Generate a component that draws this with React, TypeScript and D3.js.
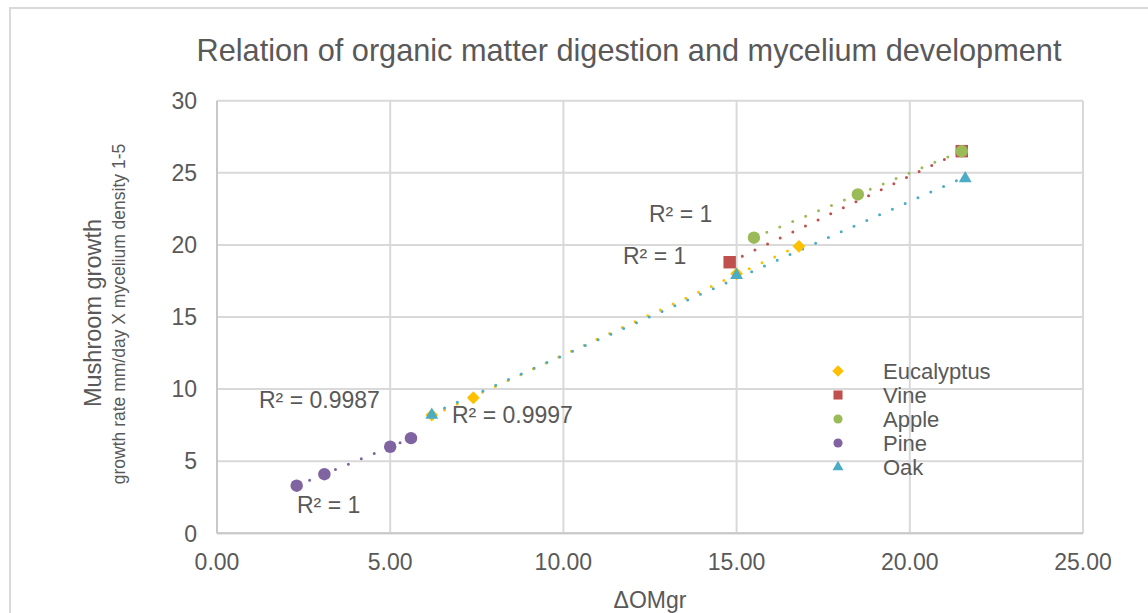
import React from "react";
import * as d3 from "d3";

const seriesNames = ["Eucalyptus", "Vine", "Apple", "Pine", "Oak"];
const seriesColors = ["#FFC000", "#C0504D", "#9BBB59", "#8064A2", "#4BACC6"];
const seriesShapes = ["diamond", "square", "circle", "circle", "triangle"];

const eucalyptusX = [6.2, 7.4, 15.0, 16.8];
const eucalyptusY = [8.2, 9.4, 18.0, 19.9];
const vineX = [14.8, 21.5];
const vineY = [18.8, 26.5];
const appleX = [15.5, 18.5, 21.5];
const appleY = [20.5, 23.5, 26.5];
const pineX = [2.3, 3.1, 5.0, 5.6];
const pineY = [3.3, 4.1, 6.0, 6.6];
const oakX = [6.2, 15.0, 21.6];
const oakY = [8.2, 17.9, 24.6];

const xTicks = [0, 5, 10, 15, 20, 25];
const yTicks = [0, 5, 10, 15, 20, 25, 30];

const r2Labels = ["R² = 0.9997", "R² = 1", "R² = 1", "R² = 1", "R² = 0.9987"];
const r2Pos: [number, number][] = [
  [452, 423],
  [623, 264],
  [649, 222],
  [297, 513],
  [259, 408],
];

const titleText = "Relation of organic matter digestion and mycelium development";
const xTitle = "ΔOMgr";
const yTitle = "Mushroom growth";
const ySubTitle = "growth rate mm/day X mycelium density 1-5";

const FONT = "'Liberation Sans', Arial, sans-serif";
const TEXT = "#595959";

function fit(xs: number[], ys: number[]) {
  const mx = d3.mean(xs)!;
  const my = d3.mean(ys)!;
  let sxy = 0,
    sxx = 0;
  xs.forEach((x, i) => {
    sxy += (x - mx) * (ys[i] - my);
    sxx += (x - mx) * (x - mx);
  });
  const b = sxy / sxx;
  const a = my - b * mx;
  return (x: number) => a + b * x;
}

function Marker({ shape, cx, cy, color, s }: { shape: string; cx: number; cy: number; color: string; s: number }) {
  const sym =
    shape === "diamond"
      ? d3.symbolDiamond2
      : shape === "square"
      ? d3.symbolSquare
      : shape === "triangle"
      ? d3.symbolTriangle
      : d3.symbolCircle;
  const path = d3.symbol().type(sym).size(s)()!;
  return <path d={path} transform={`translate(${cx},${cy})`} fill={color} />;
}

export default function App() {
  const W = 1148;
  const H = 613;
  const x = d3.scaleLinear().domain([0, 25]).range([217, 1083]);
  const y = d3.scaleLinear().domain([0, 30]).range([533.3, 100.7]);
  const data = [
    [eucalyptusX, eucalyptusY],
    [vineX, vineY],
    [appleX, appleY],
    [pineX, pineY],
    [oakX, oakY],
  ];
  const sizes: Record<string, number> = { diamond: 105, square: 155, circle: 122, triangle: 72 };
  const legendSizes: Record<string, number> = { diamond: 85, square: 82, circle: 66, triangle: 52 };

  return (
    <svg
      width={W}
      height={H}
      style={{ position: "absolute", left: 0, top: 0, background: "#fff" }}
      fontFamily={FONT}
    >
      <rect x={10} y={8} width={1300} height={800} fill="#fff" stroke="#d9d9d9" strokeWidth={2} />
      <text x={629} y={61} textAnchor="middle" fontSize={30.7} fill={TEXT}>
        {titleText}
      </text>
      {yTicks.map((t) => (
        <line key={"gy" + t} x1={217} x2={1083} y1={y(t)} y2={y(t)} stroke="#d9d9d9" strokeWidth={2} />
      ))}
      {xTicks.map((t) => (
        <line key={"gx" + t} y1={y(0)} y2={y(30)} x1={x(t)} x2={x(t)} stroke="#d9d9d9" strokeWidth={2} />
      ))}
      <line x1={x(0)} x2={x(0)} y1={y(0)} y2={y(30)} stroke="#c8c8c8" strokeWidth={2} />
      <line x1={x(0)} x2={x(25)} y1={y(0)} y2={y(0)} stroke="#c8c8c8" strokeWidth={2} />
      {yTicks.map((t) => (
        <text key={"ty" + t} x={197} y={y(t)} dy="0.36em" textAnchor="end" fontSize={23} fill={TEXT}>
          {t}
        </text>
      ))}
      {xTicks.map((t) => (
        <text key={"tx" + t} x={x(t)} y={570} textAnchor="middle" fontSize={23} fill={TEXT}>
          {d3.format(".2f")(t)}
        </text>
      ))}
      <text x={650} y={608} textAnchor="middle" fontSize={23} fill={TEXT}>
        {xTitle}
      </text>
      <text transform="translate(101,313) rotate(-90)" textAnchor="middle" fontSize={23.5} fill={TEXT}>
        {yTitle}
      </text>
      <text transform="translate(125,314) rotate(-90)" textAnchor="middle" fontSize={17.5} fill={TEXT}>
        {ySubTitle}
      </text>
      {data.map(([xs, ys], i) => {
        const f = fit(xs, ys);
        const x0 = d3.min(xs)!;
        const x1 = d3.max(xs)!;
        return (
          <line
            key={"tr" + i}
            x1={x(x0)}
            y1={y(f(x0))}
            x2={x(x1)}
            y2={y(f(x1))}
            stroke={seriesColors[i]}
            strokeWidth={3}
            strokeDasharray="0 14"
            strokeLinecap="round"
          />
        );
      })}
      {data.map(([xs, ys], i) =>
        xs.map((xv, j) => (
          <Marker
            key={"m" + i + "-" + j}
            shape={seriesShapes[i]}
            cx={x(xv)}
            cy={y(ys[j])}
            color={seriesColors[i]}
            s={sizes[seriesShapes[i]]}
          />
        ))
      )}
      {r2Labels.map((l, i) => (
        <text key={"r" + i} x={r2Pos[i][0]} y={r2Pos[i][1]} fontSize={23} fill={TEXT}>
          {l}
        </text>
      ))}
      {seriesNames.map((n, i) => (
        <g key={"lg" + i}>
          <Marker shape={seriesShapes[i]} cx={838} cy={371 + i * 24} color={seriesColors[i]} s={legendSizes[seriesShapes[i]]} />
          <text x={883} y={371 + i * 24} dy="0.36em" fontSize={22} fill={TEXT}>
            {n}
          </text>
        </g>
      ))}
    </svg>
  );
}
